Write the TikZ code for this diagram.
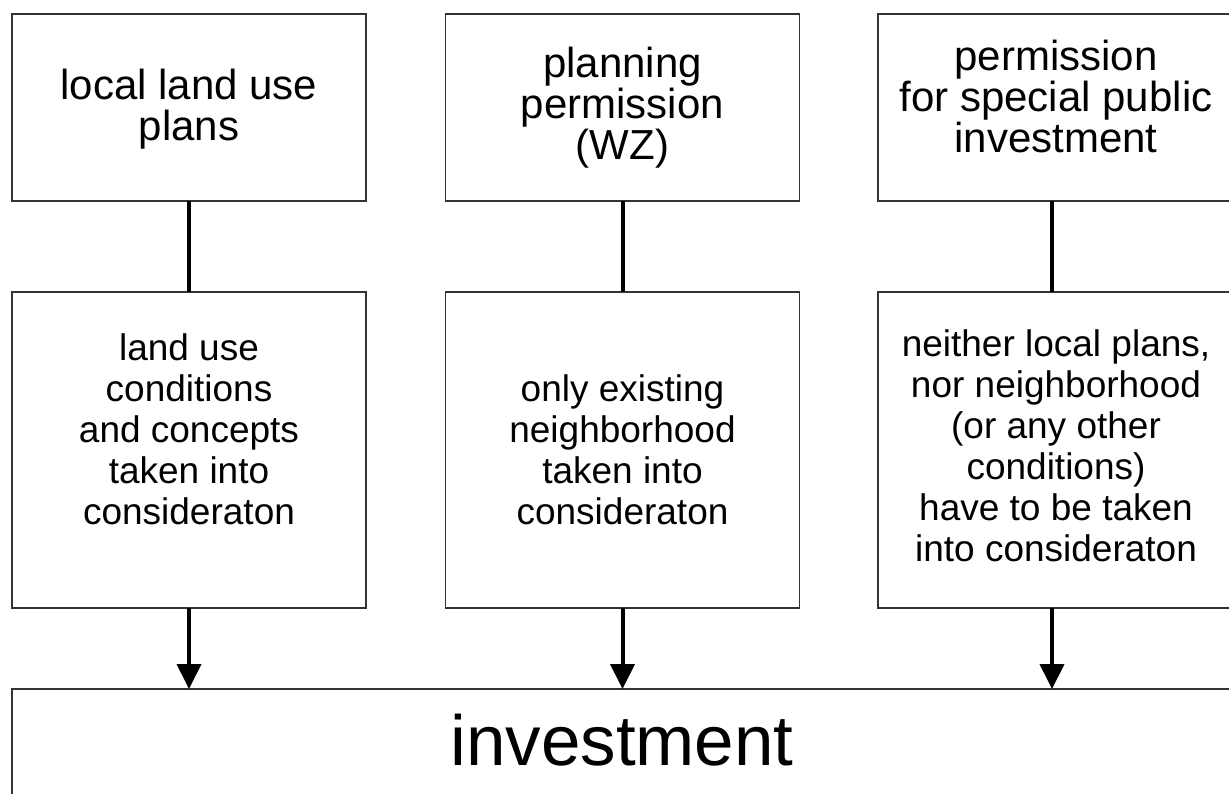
\documentclass[tikz,border=0pt]{standalone}
\usepackage{fontspec}
\setmainfont{Liberation Sans}
\usetikzlibrary{arrows.meta}
\begin{document}
\begin{tikzpicture}[x=1pt,y=-1pt,
  box/.style={draw=black!80, line width=1.5pt, rectangle, outer sep=0pt, inner sep=0pt, align=center},
  topbox/.style={box, minimum width=354pt, minimum height=187pt},
  midbox/.style={box, minimum width=354pt, minimum height=316pt},
  toptext/.style={align=center, inner sep=0pt, font=\fontsize{42}{41}\selectfont},
  midtext/.style={align=center, inner sep=0pt, font=\fontsize{37}{41}\selectfont},
  conn/.style={line width=4pt, black},
  arr/.style={conn, -{Triangle[width=24pt,length=25pt]}}]
\useasboundingbox (0,0) rectangle (1229,794);
\clip (0,0) rectangle (1229,794);
\fill[white] (0,0) rectangle (1229,794);
\node[topbox, label={[toptext, yshift=-2pt]center:local land use\\plans}] (t1) at (189,107.5) {};
\node[topbox, label={[toptext]center:planning\\permission\\(WZ)}] (t2) at (622.5,107.5) {};
\node[topbox, minimum width=356pt, label={[toptext, yshift=11pt]center:permission\\for special public\\investment}] (t3) at (1056,107.5) {};
\node[midbox, label={[midtext, yshift=21pt]center:land use\\conditions\\and concepts\\taken into\\consideraton}] (m1) at (189,450) {};
\node[midbox, label={[midtext]center:only existing\\neighborhood\\taken into\\consideraton}] (m2) at (622.5,450) {};
\node[midbox, minimum width=356pt, label={[midtext, yshift=4pt]center:neither local plans,\\nor neighborhood\\(or any other\\conditions)\\have to be taken\\into consideraton}] (m3) at (1056,450) {};
\node[box, anchor=north, minimum width=1220pt, minimum height=200pt, text height=52pt, text depth=100pt, font=\fontsize{71}{71}\selectfont] (b) at (622,689) {investment};
\coordinate (c3) at (1052,0);
\draw[conn] (t1.south) -- (m1.north);
\draw[conn] (t2.south) -- (m2.north);
\draw[conn] (t3.south -| c3) -- (m3.north -| c3);
\draw[arr] (m1.south) -- (m1.south |- b.north);
\draw[arr] (m2.south) -- (m2.south |- b.north);
\draw[arr] (m3.south -| c3) -- (c3 |- b.north);
\end{tikzpicture}
\end{document}
